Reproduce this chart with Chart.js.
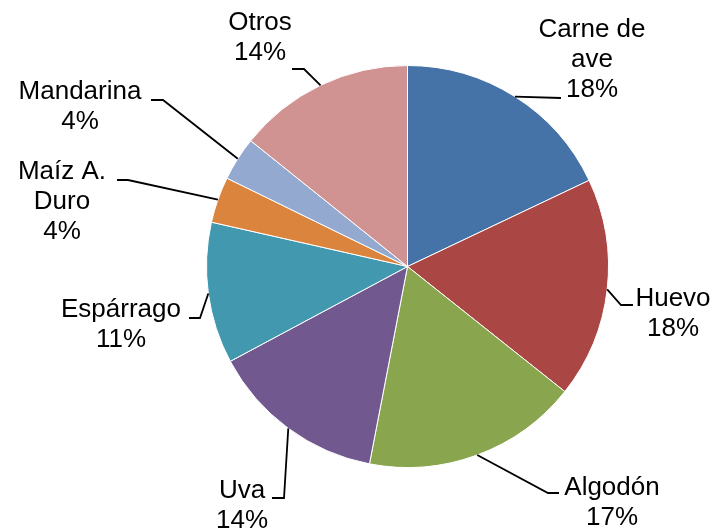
<!DOCTYPE html>
<html>
<head>
<meta charset="utf-8">
<script src="https://cdn.jsdelivr.net/npm/chart.js@4/dist/chart.umd.min.js"></script>
<style>
  html, body { margin: 0; padding: 0; background: #fff; }
  #wrap { width: 713px; height: 529px; position: relative; }
</style>
</head>
<body>
<div id="wrap"><canvas id="c" width="713" height="529"></canvas></div>
<script>
// ---- data ----
const categories = ["Carne de ave", "Huevo", "Algodón", "Uva", "Espárrago", "Maíz A. Duro", "Mandarina", "Otros"];
const shares = [17.95, 17.74, 17.34, 14.15, 11.36, 3.70, 3.52, 14.24];
const sliceColors = ["#4572A7", "#AA4643", "#89A54E", "#71588F", "#4198AF", "#DB843D", "#93A9CF", "#D19392"];

// ---- label layout (text line breaks, positions of labels and leader elbows) ----
const labelLines = [["Carne de", "ave"], ["Huevo"], ["Algodón"], ["Uva"], ["Espárrago"], ["Maíz A.", "Duro"], ["Mandarina"], ["Otros"]];
const labelLayout = [
  { cx: 592, y0: 30,  knee: null,       end: [561, 98] },
  { cx: 673, y0: 299, knee: [621, 305], end: [633, 305] },
  { cx: 612, y0: 488, knee: [548, 493], end: [559, 493] },
  { cx: 242, y0: 491, knee: [284, 498], end: [272, 498] },
  { cx: 121, y0: 310, knee: [200, 318], end: [189, 318] },
  { cx: 62,  y0: 172, knee: [128, 180], end: [117, 180] },
  { cx: 80,  y0: 92,  knee: [163, 100], end: [151, 100] },
  { cx: 260, y0: 23,  knee: [304, 69],  end: [292, 69] }
];
const lineGap = 29.7;
const FONT = '26px "Liberation Sans", Arial, sans-serif';

const total = shares.reduce((a, b) => a + b, 0);

const labelPlugin = {
  id: 'excelLabels',
  afterDatasetsDraw(chart) {
    const ctx = chart.ctx;
    const meta = chart.getDatasetMeta(0);
    ctx.save();
    meta.data.forEach((arc, i) => {
      const p = arc.getProps(['x', 'y', 'startAngle', 'endAngle', 'outerRadius'], true);
      const mid = (p.startAngle + p.endAngle) / 2;
      const ax = p.x + Math.cos(mid) * p.outerRadius;
      const ay = p.y + Math.sin(mid) * p.outerRadius;
      const L = labelLayout[i];
      ctx.strokeStyle = '#000';
      ctx.lineWidth = 1.8;
      ctx.beginPath();
      ctx.moveTo(ax, ay);
      if (L.knee) ctx.lineTo(L.knee[0], L.knee[1]);
      ctx.lineTo(L.end[0], L.end[1]);
      ctx.stroke();

      const lines = labelLines[i].concat([Math.round(shares[i] / total * 100) + '%']);
      ctx.fillStyle = '#000';
      ctx.font = FONT;
      ctx.textAlign = 'center';
      ctx.textBaseline = 'middle';
      lines.forEach((t, k) => ctx.fillText(t, L.cx, L.y0 + k * lineGap));
    });
    ctx.restore();
  }
};

new Chart(document.getElementById('c'), {
  type: 'pie',
  data: {
    labels: categories,
    datasets: [{
      data: shares,
      backgroundColor: sliceColors,
      borderColor: '#ffffff',
      borderWidth: 1
    }]
  },
  options: {
    responsive: false,
    animation: false,
    layout: { padding: { left: 206, right: 104, top: 65, bottom: 61 } },
    plugins: { legend: { display: false }, tooltip: { enabled: false }, title: { display: false } }
  },
  plugins: [labelPlugin]
});
</script>
</body>
</html>
